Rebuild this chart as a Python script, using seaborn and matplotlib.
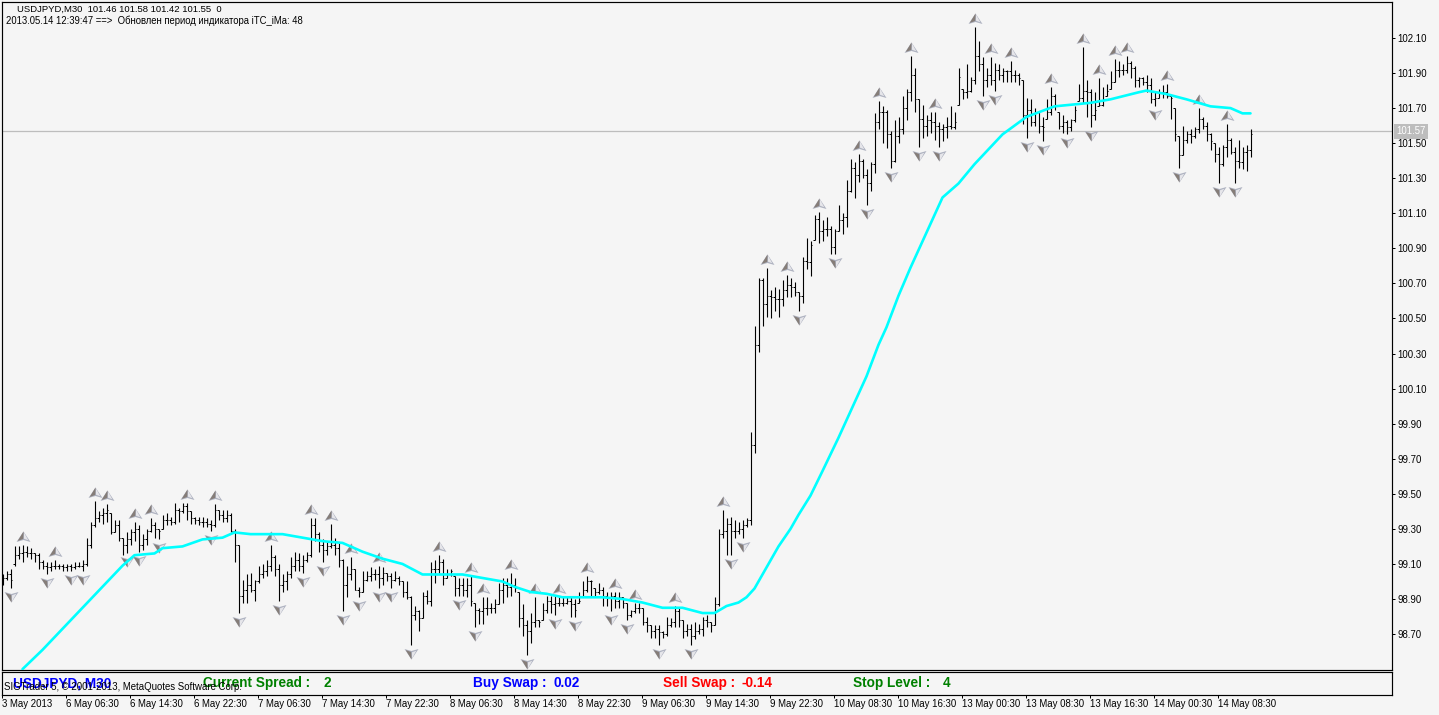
import numpy as np
import matplotlib
matplotlib.use("Agg")
import matplotlib.pyplot as plt
from matplotlib.markers import MarkerStyle
from matplotlib.path import Path
import seaborn as sns

# USDJPYD M30 bars
abiertos = [
    99.00,99.02,99.04,99.10,99.15,99.16,99.17,99.16,99.16,99.15,
    99.11,99.09,99.08,99.09,99.09,99.09,99.08,99.09,99.08,99.09,
    99.09,99.10,99.21,99.32,99.36,99.38,99.39,99.39,99.28,99.32,
    99.25,99.21,99.24,99.28,99.30,99.21,99.24,99.29,99.32,99.30,
    99.30,99.35,99.35,99.34,99.41,99.40,99.43,99.40,99.36,99.35,
    99.34,99.34,99.33,99.32,99.41,99.38,99.36,99.38,99.29,99.21,
    98.92,98.95,98.98,98.95,99.00,99.04,99.06,99.09,99.14,99.07,
    98.98,99.00,99.04,99.09,99.12,99.09,99.12,99.15,99.32,99.27,
    99.21,99.18,99.20,99.21,99.19,99.12,98.98,99.04,99.07,98.95,
    98.94,99.01,99.03,99.04,99.04,99.02,99.05,99.03,99.01,99.02,
    99.00,98.94,98.91,98.81,98.83,98.79,98.92,98.89,99.07,99.07,
    99.11,99.02,99.04,99.03,98.96,98.98,98.95,98.98,98.88,98.84,
    98.83,98.85,98.85,98.85,98.87,98.95,98.98,98.97,98.98,98.94,
    98.79,98.75,98.72,98.77,98.78,98.78,98.84,98.89,98.87,98.88,
    98.88,98.88,98.89,98.87,98.88,98.92,98.95,99.00,98.96,98.94,
    98.95,98.92,98.91,98.92,98.89,98.91,98.88,98.81,98.83,98.85,
    98.85,98.77,98.75,98.72,98.73,98.71,98.70,98.75,98.77,98.83,
    98.78,98.72,98.73,98.69,98.72,98.73,98.78,98.77,98.75,98.87,
    99.27,99.29,99.33,99.29,99.29,99.30,99.32,99.35,99.78,100.35,
    100.72,100.58,100.63,100.62,100.61,100.61,100.66,100.69,100.68,100.65,
    100.63,100.83,100.82,100.95,101.07,101.00,101.01,101.01,100.91,101.00,
    101.06,101.08,101.23,101.36,101.32,101.40,101.32,101.27,101.38,101.62,
    101.68,101.68,101.55,101.40,101.54,101.58,101.70,101.79,101.89,101.75,
    101.64,101.60,101.63,101.62,101.60,101.58,101.59,101.60,101.59,101.72,
    101.81,101.79,101.80,101.86,102.00,101.95,101.86,101.89,101.86,101.92,
    101.89,101.91,101.91,101.89,101.89,101.86,101.66,101.69,101.62,101.68,
    101.60,101.64,101.68,101.77,101.68,101.60,101.62,101.59,101.63,101.74,
    101.76,101.80,101.79,101.66,101.71,101.72,101.77,101.81,101.85,101.92,
    101.92,101.92,101.96,101.93,101.86,101.87,101.85,101.83,101.75,101.76,
    101.79,101.79,101.77,101.70,101.54,101.43,101.52,101.55,101.54,101.58,
    101.64,101.60,101.55,101.50,101.44,101.38,101.48,101.52,101.45,101.40,
    101.39,101.45,101.46]
altos = [
    99.04,99.06,99.07,99.20,99.20,99.21,99.20,99.19,99.16,99.16,
    99.12,99.11,99.11,99.12,99.10,99.10,99.10,99.10,99.11,99.11,
    99.12,99.25,99.34,99.46,99.40,99.42,99.44,99.39,99.35,99.35,
    99.25,99.28,99.30,99.34,99.32,99.27,99.30,99.36,99.34,99.30,
    99.38,99.39,99.37,99.45,99.42,99.45,99.45,99.40,99.37,99.37,
    99.37,99.36,99.35,99.44,99.41,99.41,99.41,99.39,99.30,99.21,
    99.01,99.04,99.05,99.01,99.09,99.10,99.12,99.21,99.15,99.10,
    99.04,99.06,99.14,99.17,99.16,99.15,99.17,99.36,99.36,99.28,
    99.24,99.23,99.33,99.25,99.22,99.13,99.09,99.14,99.07,98.97,
    99.06,99.06,99.08,99.07,99.09,99.08,99.05,99.05,99.06,99.03,
    99.00,99.00,98.92,98.86,98.84,98.94,98.95,99.11,99.12,99.15,
    99.13,99.07,99.07,99.03,99.02,99.02,99.02,99.03,98.88,98.85,
    98.91,98.91,98.88,98.90,98.99,99.02,99.02,99.05,99.02,98.94,
    98.87,98.78,98.82,98.91,98.78,98.88,98.92,98.92,98.92,98.91,
    98.91,98.91,98.91,98.90,98.94,99.00,99.03,99.01,98.96,98.99,
    98.97,98.94,98.94,98.94,98.94,98.91,98.88,98.84,98.88,98.88,
    98.85,98.80,98.75,98.75,98.75,98.72,98.80,98.79,98.86,98.85,
    98.78,98.76,98.76,98.77,98.76,98.80,98.81,98.77,98.91,99.30,
    99.41,99.36,99.37,99.35,99.34,99.35,99.36,99.85,100.46,100.73,
    100.73,100.79,100.66,100.68,100.67,100.72,100.75,100.73,100.71,100.65,
    100.85,100.96,100.94,101.09,101.11,101.06,101.08,101.03,101.01,101.15,
    101.10,101.29,101.41,101.39,101.44,101.41,101.35,101.39,101.67,101.74,
    101.71,101.69,101.57,101.63,101.65,101.77,101.81,102.00,101.93,101.75,
    101.72,101.66,101.68,101.68,101.62,101.61,101.65,101.71,101.68,101.93,
    101.81,101.95,101.88,102.16,102.08,101.99,101.93,101.99,101.96,101.95,
    101.93,101.92,101.97,101.92,101.90,101.86,101.76,101.75,101.70,101.68,
    101.65,101.75,101.82,101.78,101.68,101.66,101.63,101.64,101.71,101.84,
    102.05,101.86,101.81,101.79,101.87,101.82,101.84,101.91,101.98,101.97,
    101.95,102.00,101.97,101.94,101.88,101.88,101.89,101.87,101.79,101.81,
    101.83,101.84,101.77,101.70,101.54,101.60,101.57,101.58,101.59,101.70,
    101.65,101.62,101.56,101.50,101.48,101.49,101.61,101.53,101.48,101.52,
    101.48,101.49,101.58]
bajos = [
    98.98,99.01,98.96,99.09,99.13,99.11,99.14,99.13,99.11,99.07,
    99.07,99.04,99.06,99.07,99.07,99.06,99.06,99.06,99.07,99.08,
    99.06,99.09,99.19,99.31,99.34,99.33,99.34,99.27,99.28,99.23,
    99.15,99.16,99.21,99.23,99.17,99.18,99.21,99.28,99.25,99.24,
    99.30,99.32,99.32,99.33,99.34,99.39,99.35,99.33,99.33,99.32,
    99.31,99.31,99.29,99.31,99.35,99.34,99.34,99.28,99.11,98.82,
    98.88,98.88,98.94,98.89,98.99,99.02,99.03,99.06,99.03,98.89,
    98.94,98.95,99.02,99.06,99.06,99.05,99.11,99.14,99.23,99.17,
    99.11,99.15,99.19,99.15,99.08,98.83,98.91,99.01,98.95,98.91,
    98.94,99.00,99.00,99.01,98.96,98.98,99.00,98.96,99.00,98.98,
    98.91,98.90,98.64,98.78,98.72,98.79,98.87,98.86,98.99,99.05,
    98.98,99.02,99.03,98.92,98.92,98.92,98.91,98.86,98.74,98.76,
    98.76,98.81,98.82,98.82,98.87,98.88,98.91,98.92,98.94,98.74,
    98.69,98.58,98.65,98.74,98.74,98.78,98.82,98.82,98.81,98.86,
    98.86,98.87,98.80,98.80,98.88,98.92,98.94,98.92,98.91,98.93,
    98.86,98.86,98.83,98.85,98.85,98.85,98.78,98.80,98.82,98.82,
    98.75,98.71,98.68,98.68,98.64,98.68,98.69,98.74,98.74,98.74,
    98.68,98.69,98.64,98.67,98.70,98.69,98.74,98.71,98.75,98.86,
    99.25,99.15,99.15,99.25,99.27,99.25,99.31,99.32,99.73,100.31,
    100.46,100.51,100.50,100.54,100.51,100.57,100.62,100.62,100.63,100.54,
    100.59,100.78,100.74,100.95,100.93,100.94,100.97,100.87,100.87,101.00,
    100.98,101.02,101.22,101.19,101.28,101.30,101.15,101.23,101.33,101.58,
    101.50,101.47,101.36,101.39,101.50,101.55,101.63,101.74,101.68,101.48,
    101.53,101.54,101.56,101.52,101.48,101.51,101.53,101.58,101.58,101.72,
    101.75,101.76,101.79,101.84,101.91,101.77,101.82,101.83,101.80,101.86,
    101.85,101.85,101.85,101.85,101.83,101.61,101.53,101.60,101.60,101.56,
    101.51,101.64,101.66,101.69,101.58,101.56,101.55,101.57,101.62,101.74,
    101.73,101.65,101.59,101.63,101.71,101.71,101.77,101.81,101.85,101.88,
    101.89,101.90,101.87,101.82,101.82,101.83,101.79,101.73,101.71,101.76,
    101.76,101.76,101.64,101.51,101.36,101.43,101.50,101.50,101.53,101.56,
    101.58,101.51,101.46,101.39,101.27,101.37,101.42,101.44,101.27,101.36,
    101.35,101.34,101.42]
cierres = [
    99.02,99.04,99.01,99.15,99.16,99.17,99.16,99.16,99.15,99.11,
    99.09,99.08,99.09,99.09,99.09,99.08,99.09,99.08,99.09,99.09,
    99.10,99.21,99.32,99.36,99.38,99.39,99.41,99.28,99.32,99.25,
    99.21,99.24,99.28,99.30,99.21,99.24,99.29,99.32,99.30,99.29,
    99.35,99.35,99.34,99.41,99.40,99.43,99.40,99.36,99.35,99.34,
    99.34,99.33,99.32,99.41,99.38,99.36,99.38,99.29,99.21,98.92,
    98.95,98.98,98.95,99.00,99.04,99.06,99.09,99.14,99.07,98.98,
    99.00,99.04,99.09,99.12,99.09,99.12,99.15,99.32,99.27,99.21,
    99.18,99.20,99.21,99.19,99.12,98.98,99.04,99.07,98.95,98.94,
    99.01,99.03,99.04,99.04,99.02,99.05,99.03,99.01,99.02,99.00,
    98.94,98.91,98.81,98.83,98.79,98.92,98.89,99.07,99.07,99.11,
    99.02,99.04,99.06,98.96,98.98,98.95,98.98,98.89,98.84,98.83,
    98.85,98.85,98.85,98.87,98.95,98.98,98.97,98.98,98.96,98.79,
    98.75,98.72,98.77,98.78,98.77,98.84,98.89,98.87,98.88,98.88,
    98.88,98.89,98.87,98.84,98.89,98.95,99.00,99.00,98.94,98.95,
    98.92,98.91,98.92,98.89,98.91,98.88,98.81,98.83,98.85,98.85,
    98.77,98.75,98.72,98.73,98.71,98.70,98.75,98.77,98.83,98.78,
    98.72,98.73,98.69,98.72,98.73,98.78,98.77,98.75,98.87,99.27,
    99.29,99.33,99.29,99.29,99.30,99.32,99.35,99.78,100.35,100.72,
    100.58,100.63,100.62,100.61,100.61,100.66,100.69,100.68,100.65,100.63,
    100.83,100.82,100.92,101.07,101.00,101.01,101.01,100.91,101.00,101.06,
    101.08,101.23,101.36,101.32,101.40,101.32,101.27,101.38,101.62,101.68,
    101.68,101.55,101.40,101.54,101.58,101.70,101.79,101.89,101.75,101.64,
    101.60,101.63,101.62,101.60,101.58,101.59,101.60,101.59,101.62,101.88,
    101.79,101.80,101.86,102.00,101.95,101.86,101.89,101.86,101.92,101.89,
    101.91,101.91,101.89,101.89,101.87,101.66,101.69,101.62,101.68,101.60,
    101.59,101.68,101.77,101.72,101.60,101.62,101.59,101.63,101.69,101.76,
    101.80,101.79,101.66,101.69,101.72,101.75,101.80,101.85,101.92,101.92,
    101.92,101.96,101.93,101.86,101.87,101.85,101.83,101.75,101.76,101.79,
    101.79,101.77,101.76,101.55,101.43,101.52,101.55,101.54,101.58,101.64,
    101.60,101.55,101.51,101.44,101.38,101.48,101.52,101.45,101.40,101.39,
    101.45,101.46,101.55]

# fractales (indice de barra)
fractal_arriba = [5,13,23,26,33,37,46,53,67,77,82,87,94,109,117,120,127,133,139,146,153,158,168,
                  180,191,196,204,214,219,227,233,243,247,252,262,270,274,278,281,291,299,306]
fractal_abajo = [2,11,17,20,31,34,39,52,59,69,75,80,85,89,94,97,102,114,118,131,138,143,152,156,164,172,
                 182,185,199,208,216,222,229,234,245,248,256,260,266,272,288,294,304,308]

# iTC_iMa, leida barra por barra donde cambia la pendiente
ma_barra = [5,10,15,20,25,30,33,38,40,45,50,55,58,62,70,75,80,85,90,95,100,105,110,115,120,125,128,132,
            136,140,145,150,155,160,165,170,175,178,181,184,186,188,190,192,194,197,199,202,205,209,212,
            216,219,221,224,227,231,235,237,239,243,250,256,263,272,277,284,286,291,296,302,307,310,312]
ma_valor = [98.50,98.61,98.73,98.85,98.97,99.09,99.15,99.16,99.19,99.20,99.24,99.25,99.28,99.27,99.27,
            99.25,99.23,99.22,99.17,99.13,99.10,99.04,99.04,99.04,99.02,99.00,98.97,98.94,98.93,98.91,
            98.91,98.91,98.90,98.88,98.85,98.85,98.82,98.82,98.86,98.88,98.91,98.96,99.04,99.12,99.20,
            99.30,99.38,99.49,99.63,99.82,99.97,100.17,100.35,100.45,100.63,100.79,100.99,101.19,101.23,
            101.27,101.38,101.55,101.65,101.71,101.73,101.75,101.79,101.80,101.78,101.75,101.71,101.70,
            101.67,101.67]

precio_actual = 101.57
niveles = [98.70,98.90,99.10,99.30,99.50,99.70,99.90,100.10,100.30,100.50,100.70,100.90,
           101.10,101.30,101.50,101.70,101.90,102.10]
etiquetas_x = ["3 May 2013","6 May 06:30","6 May 14:30","6 May 22:30","7 May 06:30","7 May 14:30",
               "7 May 22:30","8 May 06:30","8 May 14:30","8 May 22:30","9 May 06:30","9 May 14:30",
               "9 May 22:30","10 May 08:30","10 May 16:30","13 May 00:30","13 May 08:30",
               "13 May 16:30","14 May 00:30","14 May 08:30"]

ANCHO, ALTO = 1439, 715
FONDO = "#f5f5f5"
FUENTE = ["Liberation Sans", "DejaVu Sans"]


def caja(fig, x0, y0, x1, y1):
    return fig.add_axes([x0 / ANCHO, 1 - y1 / ALTO, (x1 - x0) / ANCHO, (y1 - y0) / ALTO])


def texto(fig, x, y, s, **kw):
    fig.text(x / ANCHO, 1 - y / ALTO, s, va="center", ha="left", **kw)


sns.set_style("ticks", {"axes.facecolor": FONDO, "figure.facecolor": FONDO})
plt.rcParams["font.family"] = FUENTE

fig = plt.figure(figsize=(ANCHO / 100, ALTO / 100), dpi=100)
ax = caja(fig, 2.0, 1.5, 1392.0, 669.5)
panel = caja(fig, 2.0, 671.5, 1392.0, 694.5)

x = np.arange(len(altos))

ax.axhline(precio_actual, color="#bdbdbd", lw=0.9, zorder=1)

ax.vlines(x, bajos, altos, colors="black", lw=0.8, zorder=2)
ax.hlines(abiertos, x - 0.3, x, colors="black", lw=0.72, zorder=2)
ax.hlines(cierres, x, x + 0.3, colors="black", lw=0.72, zorder=2)

# flecha de fractal: silueta, cara clara y cara oscura
silueta = [(0, 14), (-7, 3.5), (0, 5.5), (7, 3.5)]
clara = [(0.5, 12), (0.5, 6.8), (4.8, 5.2)]
oscura = [(0, 14), (-5.8, 4.6), (-0.3, 6.5), (0, 12)]
tam = 406
for idx, precios, signo in [(fractal_arriba, altos, 1), (fractal_abajo, bajos, -1)]:
    xs = np.array(idx)
    ys = np.array(precios)[xs]
    for forma, color, ref in [(silueta, "#aeb2c0", None), (clara, "#e6e6ea", (0, 14)), (oscura, "#857d78", None)]:
        verts = [(a, signo * b) for a, b in forma]
        if ref is None:
            marca = MarkerStyle(Path(verts + [verts[0]], closed=True))
        else:
            # el punto extra mantiene la escala de la silueta
            verts = [(ref[0], signo * ref[1])] + verts
            marca = MarkerStyle(Path(verts + [verts[0]], closed=True))
        sns.scatterplot(x=xs, y=ys, marker=marca, s=tam, color=color, linewidth=0, ax=ax, zorder=3, legend=False)

sns.lineplot(x=ma_barra, y=ma_valor, color="#00ffff", lw=1.9, ax=ax, zorder=4, errorbar=None, legend=False)

ax.set_xlim(-0.125, 347.375)
ax.set_ylim(98.498, 102.308)
ax.set_xticks([])
ax.yaxis.tick_right()
ax.set_yticks(niveles)
ax.set_yticklabels([f"{n:.2f}" for n in niveles])
ax.tick_params(axis="y", length=2.5, width=0.72, pad=1.5, labelsize=6.9, colors="black")
ax.set_xlabel("")
ax.set_ylabel("")

fig.text(1396 / ANCHO, 1 - 131.5 / ALTO, "101.57", color="white", fontsize=6.9, va="center", ha="left",
         bbox=dict(facecolor="#bdbdbd", edgecolor="none", pad=1.8), zorder=5)

panel.set_xlim(-0.125, 347.375)
panel.set_ylim(0, 1)
panel.set_yticks([])
panel.set_xticks(np.arange(len(etiquetas_x)) * 16 - 0.125)
panel.set_xticklabels(etiquetas_x, ha="left")
panel.tick_params(axis="x", length=2.5, width=0.72, pad=1, labelsize=6.9, colors="black")

for a in (ax, panel):
    for lado in a.spines.values():
        lado.set_visible(True)
        lado.set_linewidth(0.85)
        lado.set_color("black")

texto(fig, 17, 9.5, "USDJPYD,M30  101.46 101.58 101.42 101.55  0", fontsize=6.8, color="black")
texto(fig, 6, 20.5, "2013.05.14 12:39:47 ==>  Обновлен период индикатора iTC_iMa: 48", fontsize=6.85, color="black")

texto(fig, 13, 683, "USDJPYD, M30", fontsize=9.8, fontweight="bold", color="#0000ff")
texto(fig, 203, 683, "Current Spread :", fontsize=9.8, fontweight="bold", color="#008000")
texto(fig, 323, 683, "2", fontsize=9.8, fontweight="bold", color="#008000")
texto(fig, 473, 683, "Buy Swap :", fontsize=9.8, fontweight="bold", color="#0000ff")
texto(fig, 553, 683, "0.02", fontsize=9.8, fontweight="bold", color="#0000ff")
texto(fig, 663, 683, "Sell Swap :", fontsize=9.8, fontweight="bold", color="#ff0000")
texto(fig, 742, 683, "-0.14", fontsize=9.8, fontweight="bold", color="#ff0000")
texto(fig, 853, 683, "Stop Level :", fontsize=9.8, fontweight="bold", color="#008000")
texto(fig, 943, 683, "4", fontsize=9.8, fontweight="bold", color="#008000")
texto(fig, 4, 686.5, "SIGTrader 5, © 2001-2013, MetaQuotes Software Corp.", fontsize=6.9, color="black", zorder=6)

fig.savefig("out.png", dpi=100, facecolor=FONDO)
plt.close(fig)
